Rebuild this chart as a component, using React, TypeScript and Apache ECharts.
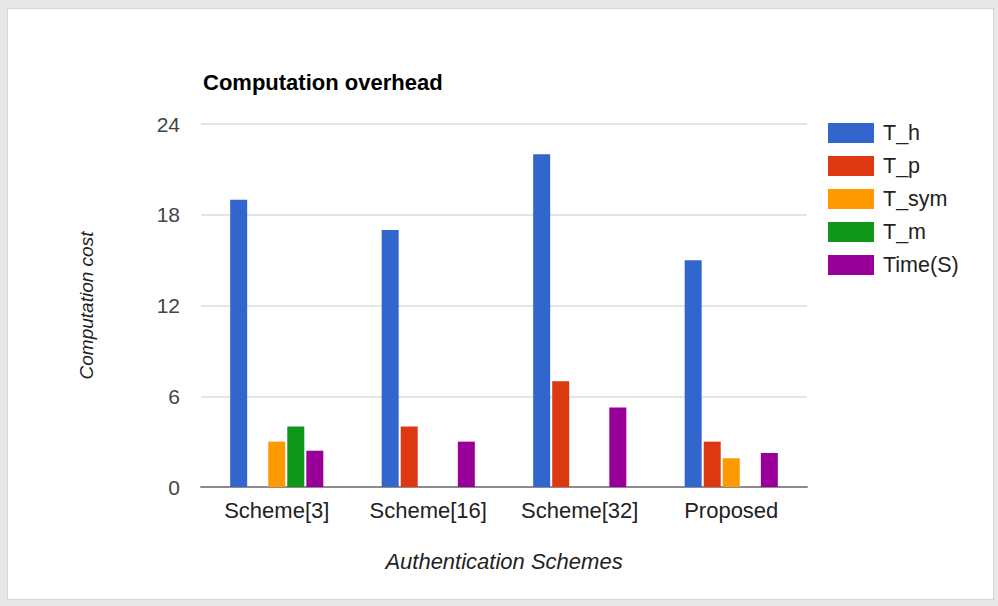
import React, { useEffect, useRef } from "react";
import * as echarts from "echarts";

// Categories and per-scheme operation counts
const categories = ["Scheme[3]", "Scheme[16]", "Scheme[32]", "Proposed"];
const seriesNames = ["T_h", "T_p", "T_sym", "T_m", "Time(S)"];
const tH = [19, 17, 22, 15];
const tP = [0, 4, 7, 3];
const tSym = [3, 0, 0, 1.9];
const tM = [4, 0, 0, 0];
const timeS = [2.4, 3, 5.25, 2.25];
const yTicks = [0, 6, 12, 18, 24];

const colors = ["#3366cc", "#dc3912", "#ff9900", "#109618", "#990099"];
const FONT = "'Liberation Sans', Arial, sans-serif";

export default function App() {
  const ref = useRef<HTMLDivElement>(null);

  useEffect(() => {
    if (!ref.current) return;
    const chart = echarts.init(ref.current, undefined, { renderer: "svg" });
    const values = [tH, tP, tSym, tM, timeS];
    chart.setOption({
      animation: false,
      color: colors,
      textStyle: { fontFamily: FONT },
      title: {
        text: "Computation overhead",
        left: 203,
        top: 71,
        padding: 0,
        textStyle: { fontSize: 22, fontWeight: "bold", color: "#000", fontFamily: FONT },
      },
      legend: {
        orient: "vertical",
        left: 828,
        top: 122,
        padding: 0,
        itemWidth: 46,
        itemHeight: 20,
        itemGap: 11,
        icon: "rect",
        data: seriesNames,
        textStyle: { fontSize: 21.5, color: "#222", fontFamily: FONT, padding: [0, 0, 0, 4] },
      },
      grid: { left: 201, right: 191, top: 124, bottom: 119, containLabel: false },
      xAxis: {
        type: "category",
        data: categories,
        name: "Authentication Schemes",
        nameLocation: "middle",
        nameGap: 63,
        nameTextStyle: { fontSize: 22, fontStyle: "italic", color: "#222", fontFamily: FONT },
        axisLine: { lineStyle: { color: "#8c8c8c", width: 2 } },
        axisTick: { show: false },
        axisLabel: { interval: 0, fontSize: 22, color: "#222", margin: 12, fontFamily: FONT },
      },
      yAxis: {
        type: "value",
        min: yTicks[0],
        max: yTicks[yTicks.length - 1],
        interval: yTicks[1] - yTicks[0],
        name: "Computation cost",
        nameLocation: "middle",
        nameGap: 105,
        nameTextStyle: { fontSize: 19, fontStyle: "italic", color: "#222", fontFamily: FONT },
        axisLine: { show: false },
        axisTick: { show: false },
        axisLabel: { fontSize: 21, color: "#444", margin: 21, fontFamily: FONT },
        splitLine: { lineStyle: { color: "#dddddd", width: 1.5 } },
      },
      series: seriesNames.map((name, i) => ({
        name,
        type: "bar",
        data: values[i],
        barWidth: 17,
        barGap: "12%",
        itemStyle: { color: colors[i] },
      })),
    });
    return () => chart.dispose();
  }, []);

  return (
    <div style={{ position: "fixed", left: 0, top: 0, width: 998, height: 606, background: "#e8e8e8" }}>
      <div
        style={{
          position: "absolute",
          left: 7,
          top: 8,
          width: 985,
          height: 590,
          background: "#fff",
          border: "1px solid #d6d6d6",
        }}
      />
      <div ref={ref} style={{ position: "absolute", left: 0, top: 0, width: 998, height: 606 }} />
    </div>
  );
}
